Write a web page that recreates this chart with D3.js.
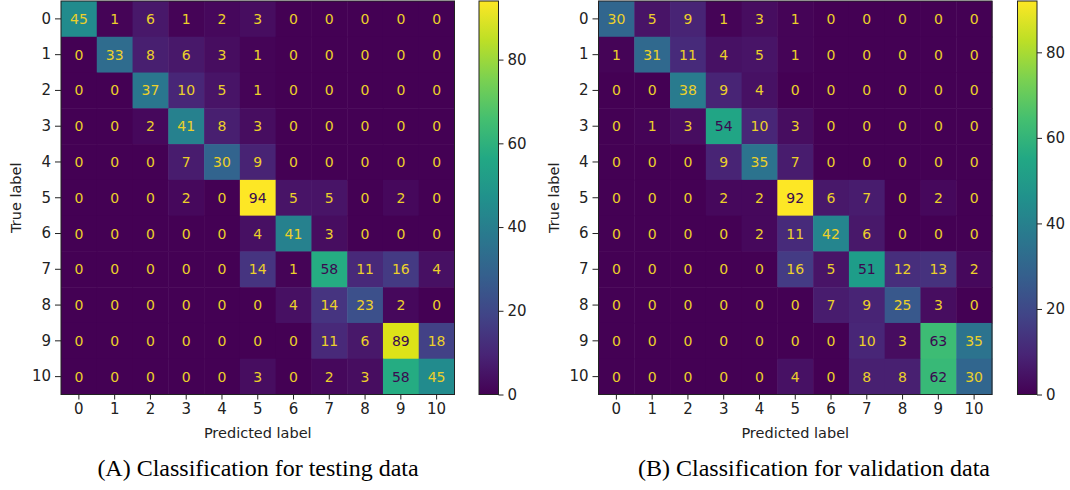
<!DOCTYPE html>
<meta charset="utf-8">
<script src="https://d3js.org/d3.v7.min.js"></script>
<style>
    body {margin:0; background:#fff;}
    svg {font-family: 'DejaVu Sans', sans-serif;}
</style>
<body>
<svg width="1070" height="490"></svg>
<script>
    // class labels 0..10
    var classes = d3.range(11);
    var cbTicks = [0, 20, 40, 60, 80];

    var testing = [
        [45, 1, 6, 1, 2, 3, 0, 0, 0, 0, 0],
        [0, 33, 8, 6, 3, 1, 0, 0, 0, 0, 0],
        [0, 0, 37, 10, 5, 1, 0, 0, 0, 0, 0],
        [0, 0, 2, 41, 8, 3, 0, 0, 0, 0, 0],
        [0, 0, 0, 7, 30, 9, 0, 0, 0, 0, 0],
        [0, 0, 0, 2, 0, 94, 5, 5, 0, 2, 0],
        [0, 0, 0, 0, 0, 4, 41, 3, 0, 0, 0],
        [0, 0, 0, 0, 0, 14, 1, 58, 11, 16, 4],
        [0, 0, 0, 0, 0, 0, 4, 14, 23, 2, 0],
        [0, 0, 0, 0, 0, 0, 0, 11, 6, 89, 18],
        [0, 0, 0, 0, 0, 3, 0, 2, 3, 58, 45]
    ];
    var validation = [
        [30, 5, 9, 1, 3, 1, 0, 0, 0, 0, 0],
        [1, 31, 11, 4, 5, 1, 0, 0, 0, 0, 0],
        [0, 0, 38, 9, 4, 0, 0, 0, 0, 0, 0],
        [0, 1, 3, 54, 10, 3, 0, 0, 0, 0, 0],
        [0, 0, 0, 9, 35, 7, 0, 0, 0, 0, 0],
        [0, 0, 0, 2, 2, 92, 6, 7, 0, 2, 0],
        [0, 0, 0, 0, 2, 11, 42, 6, 0, 0, 0],
        [0, 0, 0, 0, 0, 16, 5, 51, 12, 13, 2],
        [0, 0, 0, 0, 0, 0, 7, 9, 25, 3, 0],
        [0, 0, 0, 0, 0, 0, 0, 10, 3, 63, 35],
        [0, 0, 0, 0, 0, 4, 0, 8, 8, 62, 30]
    ];
    var captions = ["(A) Classification for testing data", "(B) Classification for validation data"];

    var svg = d3.select("svg");
    var tickFont = "15px", cellFont = "14px", labelFont = "14.5px";

    function drawMatrix(data, left, cbLeft, caption, capX) {
        var top = 1, size = 393.5;
        var vmax = d3.max(data, function(r){ return d3.max(r); });
        var color = d3.scaleSequential(d3.interpolateViridis).domain([0, vmax]);
        var x = d3.scaleBand().domain(classes).range([left, left + size]);
        var y = d3.scaleBand().domain(classes).range([top, top + size]);
        var g = svg.append("g");

        var cells = [];
        data.forEach(function(row, i){
            row.forEach(function(v, j){ cells.push({r: i, c: j, v: v}); });
        });

        g.selectAll("rect.cell").data(cells).enter().append("rect")
            .attr("class", "cell")
            .attr("x", function(d){ return x(d.c); })
            .attr("y", function(d){ return y(d.r); })
            .attr("width", x.bandwidth() + 0.5)
            .attr("height", y.bandwidth() + 0.5)
            .attr("fill", function(d){ return color(d.v); });

        var thresh = vmax / 2;
        g.selectAll("text.val").data(cells).enter().append("text")
            .attr("class", "val")
            .attr("x", function(d){ return x(d.c) + x.bandwidth() / 2; })
            .attr("y", function(d){ return y(d.r) + y.bandwidth() / 2; })
            .attr("text-anchor", "middle")
            .attr("dominant-baseline", "central")
            .style("font-size", cellFont)
            .attr("fill", function(d){ return d.v < thresh ? "#ecd02a" : "#3a0a50"; })
            .text(function(d){ return d.v; });

        g.append("rect")
            .attr("x", left).attr("y", top)
            .attr("width", size).attr("height", size)
            .attr("fill", "none").attr("stroke", "#222").attr("stroke-width", 1);

        var xAxis = g.append("g")
            .attr("transform", "translate(0," + (top + size) + ")")
            .call(d3.axisBottom(x).tickSize(5).tickPadding(4));
        var yAxis = g.append("g")
            .attr("transform", "translate(" + left + ",0)")
            .call(d3.axisLeft(y).tickSize(6).tickPadding(4));
        [xAxis, yAxis].forEach(function(a){
            a.select(".domain").remove();
            a.selectAll("line").attr("stroke", "#222");
            a.selectAll("text").style("font-size", tickFont).attr("fill", "#222")
                .style("font-family", "'DejaVu Sans', sans-serif");
        });

        g.append("text")
            .attr("x", left + size / 2).attr("y", 438)
            .attr("text-anchor", "middle")
            .style("font-size", labelFont).attr("fill", "#222")
            .text("Predicted label");
        g.append("text")
            .attr("transform", "translate(" + (left - 40) + "," + (top + size / 2) + ") rotate(-90)")
            .attr("text-anchor", "middle")
            .style("font-size", labelFont).attr("fill", "#222")
            .text("True label");

        // colorbar
        var cbW = 19.5;
        var cy = d3.scaleLinear().domain([0, vmax]).range([top + size, top]);
        var gradId = "grad" + Math.round(left);
        var grad = svg.append("defs").append("linearGradient")
            .attr("id", gradId).attr("x1", 0).attr("y1", 1).attr("x2", 0).attr("y2", 0);
        d3.range(0, 1.0001, 0.1).forEach(function(t){
            grad.append("stop").attr("offset", t).attr("stop-color", d3.interpolateViridis(t));
        });
        g.append("rect")
            .attr("x", cbLeft).attr("y", top)
            .attr("width", cbW).attr("height", size)
            .attr("fill", "url(#" + gradId + ")")
            .attr("stroke", "#222").attr("stroke-width", 1);
        var cbAxis = g.append("g")
            .attr("transform", "translate(" + (cbLeft + cbW) + ",0)")
            .call(d3.axisRight(cy).tickValues(cbTicks).tickSize(5).tickPadding(4));
        cbAxis.select(".domain").remove();
        cbAxis.selectAll("line").attr("stroke", "#222");
        cbAxis.selectAll("text").style("font-size", tickFont).attr("fill", "#222")
            .style("font-family", "'DejaVu Sans', sans-serif");

        svg.append("text")
            .attr("x", capX).attr("y", 476)
            .attr("text-anchor", "middle")
            .style("font-family", "'Liberation Serif', 'Times New Roman', serif")
            .style("font-size", "24px").attr("fill", "#000")
            .text(caption);
    }

    drawMatrix(testing, 61, 479, captions[0], 258);
    drawMatrix(validation, 598.5, 1017.5, captions[1], 814);
</script>
</body>
